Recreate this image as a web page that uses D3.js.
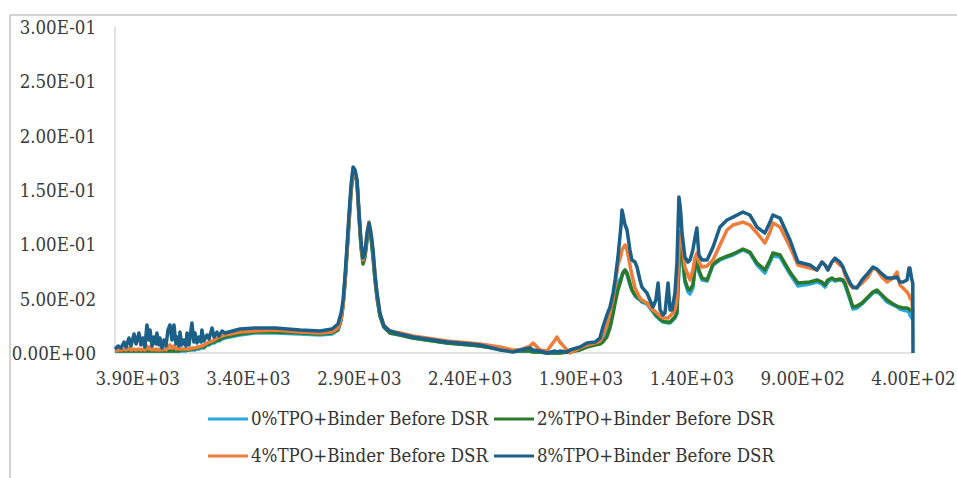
<!DOCTYPE html>
<html>
<head>
<meta charset="utf-8">
<script src="https://cdn.jsdelivr.net/npm/d3@7"></script>
<style>
  body { margin: 0; background: #fff; }
  .tick-label { font-family: "DejaVu Serif Condensed", "DejaVu Serif", serif; font-stretch: condensed; font-size: 18.5px; fill: #3a3a3a; }
  .legend-label { font-family: "DejaVu Serif Condensed", "DejaVu Serif", serif; font-stretch: condensed; font-size: 18.5px; fill: #333; }
</style>
</head>
<body>
<script>
// wavenumber (cm-1)
var wavenumbers = [4000, 3986, 3973, 3959, 3950, 3937, 3928, 3914, 3905, 3892, 3883, 3874, 3865, 3856, 3847, 3842, 3833, 3824, 3815, 3811,
  3802, 3797, 3788, 3779, 3770, 3761, 3752, 3743, 3734, 3725, 3720, 3711, 3707, 3698, 3689, 3680, 3675, 3666, 3653, 3644,
  3639, 3630, 3621, 3612, 3608, 3599, 3585, 3576, 3562, 3553, 3540, 3531, 3517,
  3504, 3436, 3368, 3278, 3165, 3075, 3021, 2994, 2980, 2971, 2962, 2953, 2944, 2935, 2926, 2917, 2908, 2899,
  2890, 2881, 2872, 2863, 2854, 2845, 2836, 2827, 2818, 2805, 2787, 2760, 2714, 2656, 2502, 2399, 2354, 2263, 2205, 2173,
  2128, 2114, 2083, 2051, 2015, 2006, 1993, 1961, 1948, 1902, 1871, 1835, 1812, 1799, 1781, 1767, 1753, 1744, 1731, 1717,
  1713, 1708, 1699, 1690, 1677, 1668, 1654, 1645, 1632, 1623, 1600, 1587, 1573, 1560, 1550, 1541, 1528, 1519, 1505, 1496,
  1487, 1474, 1465, 1456, 1451, 1447, 1442, 1429, 1415, 1406, 1393, 1384, 1375, 1366, 1352, 1329, 1302, 1271, 1239, 1212,
  1167, 1136, 1104, 1068, 1045, 1032, 1000, 955, 919, 865, 833, 811, 797, 784, 766, 752, 730, 716, 707, 684,
  671, 653, 630, 603, 581, 563, 540, 517, 490, 472, 459, 445, 427, 418, 414, 405, 401, 400];

var tpo0 = [.0018, .0018, .0018, .0018, .0018, .0018, .0018, .0018, .0018, .0018, .0018, .0018, .0018, .0018, .0018, .0018, .0018, .0018, .0018, .0018,
  .0018, .0018, .0018, .0018, .0018, .0018, .0018, .0018, .0018, .0018, .0018, .0018, .0018, .0018, .0018, .0018, .0028, .0028, .0028, .0028,
  .0028, .0037, .0037, .0046, .0046, .0046, .0074, .0074, .0092, .0092, .0110, .0110, .0129,
  .0138, .0166, .0184, .0184, .0175, .0166, .0175, .0212, .0304, .0442, .0672, .0948, .1224, .1500, .1684, .1665, .1573, .1270,
  .0994, .0837, .0902, .1058, .1150, .1086, .0902, .0690, .0515, .0350, .0239, .0184, .0166, .0138, .0092, .0074, .0064, .0037, .0018, .0018,
  .0018, .0009, .0009, 0, 0, 0, 0, .0009, .0009, .0037, .0064, .0083, .0101, .0138, .0212, .0322, .0460, .0561, .0653, .0690,
  .0718, .0745, .0764, .0718, .0626, .0580, .0524, .0506, .0488, .0469, .0451, .0414, .0377, .0340, .0322, .0304, .0285, .0285, .0276, .0276,
  .0294, .0322, .0368, .0764, .1040, .1040, .0902, .0653, .0561, .0543, .0598, .0764, .0856, .0745, .0672, .0662, .0810, .0856, .0883, .0902,
  .0948, .0920, .0810, .0736, .0837, .0892, .0883, .0727, .0616, .0635, .0653, .0635, .0607, .0653, .0681, .0662, .0672, .0662, .0626, .0488,
  .0405, .0414, .0451, .0506, .0552, .0570, .0524, .0469, .0442, .0423, .0405, .0396, .0386, .0377, .0350, .0322, .0304, null];

var tpo2 = [.0018, .0018, .0018, .0018, .0018, .0018, .0018, .0018, .0018, .0018, .0018, .0018, .0018, .0018, .0018, .0018, .0018, .0018, .0018, .0018,
  .0018, .0018, .0018, .0018, .0018, .0018, .0018, .0018, .0018, .0018, .0018, .0018, .0028, .0028, .0028, .0028, .0028, .0028, .0037, .0037,
  .0037, .0046, .0046, .0055, .0055, .0055, .0083, .0083, .0101, .0101, .0120, .0120, .0138,
  .0147, .0175, .0193, .0193, .0184, .0175, .0184, .0212, .0304, .0442, .0653, .0929, .1205, .1481, .1665, .1647, .1555, .1242,
  .0966, .0819, .0883, .1040, .1132, .1058, .0874, .0672, .0506, .0340, .0239, .0184, .0166, .0138, .0092, .0074, .0064, .0037, .0018, .0018,
  .0018, .0009, .0009, 0, 0, 0, 0, .0009, .0009, .0028, .0055, .0074, .0083, .0101, .0147, .0230, .0359, .0460, .0580, .0672,
  .0708, .0736, .0764, .0736, .0644, .0580, .0534, .0515, .0497, .0478, .0460, .0423, .0386, .0350, .0331, .0313, .0294, .0285, .0285, .0285,
  .0304, .0331, .0368, .0810, .1067, .1067, .0929, .0672, .0589, .0580, .0626, .0782, .0856, .0764, .0690, .0672, .0819, .0865, .0892, .0911,
  .0957, .0929, .0828, .0764, .0856, .0920, .0902, .0745, .0644, .0653, .0672, .0653, .0626, .0672, .0690, .0672, .0681, .0672, .0644, .0506,
  .0423, .0432, .0460, .0515, .0561, .0580, .0534, .0488, .0451, .0432, .0423, .0414, .0414, .0405, .0396, .0386, .0377, null];

var tpo4 = [.0018, .0028, .0028, .0037, .0028, .0046, .0028, .0037, .0028, .0037, .0028, .0037, .0028, .0064, .0037, .0055, .0028, .0037, .0028, .0037,
  .0028, .0037, .0028, .0037, .0028, .0055, .0074, .0046, .0064, .0037, .0046, .0037, .0037, .0037, .0037, .0037, .0037, .0037, .0046, .0046,
  .0046, .0055, .0055, .0064, .0064, .0074, .0092, .0101, .0110, .0120, .0138, .0147, .0156,
  .0166, .0193, .0202, .0212, .0193, .0184, .0193, .0230, .0322, .0442, .0672, .0948, .1242, .1500, .1684, .1665, .1573, .1279,
  .1003, .0856, .0920, .1095, .1205, .1113, .0929, .0718, .0543, .0368, .0258, .0202, .0184, .0156, .0110, .0092, .0083, .0055, .0028, .0028,
  .0064, .0092, .0028, .0018, .0120, .0147, .0101, .0028, 0, .0046, .0074, .0092, .0110, .0166, .0258, .0377, .0506, .0626, .0810, .0902,
  .0948, .0966, .0994, .0948, .0810, .0718, .0598, .0561, .0506, .0488, .0460, .0423, .0396, .0377, .0359, .0340, .0322, .0322, .0322, .0340,
  .0359, .0396, .0488, .0948, .1113, .1104, .1040, .0791, .0718, .0672, .0764, .0874, .0920, .0837, .0791, .0800, .0856, .0994, .1132, .1178,
  .1205, .1178, .1104, .1012, .1113, .1196, .1159, .0975, .0810, .0782, .0764, .0837, .0810, .0764, .0837, .0856, .0810, .0791, .0718, .0626,
  .0598, .0607, .0644, .0699, .0782, .0764, .0699, .0653, .0690, .0745, .0626, .0598, .0561, .0534, .0506, .0488, .0368, null];

var tpo8 = [.0037, .0064, .0046, .0101, .0055, .0138, .0064, .0175, .0083, .0184, .0074, .0138, .0055, .0258, .0120, .0212, .0064, .0147, .0083, .0184,
  .0074, .0138, .0046, .0120, .0064, .0212, .0258, .0120, .0258, .0083, .0147, .0064, .0193, .0074, .0120, .0064, .0184, .0074, .0276, .0101,
  .0184, .0092, .0147, .0101, .0212, .0110, .0166, .0129, .0230, .0147, .0193, .0156, .0202,
  .0184, .0221, .0230, .0230, .0212, .0202, .0221, .0267, .0368, .0488, .0718, .0994, .1288, .1546, .1711, .1684, .1592, .1288,
  .1021, .0874, .0929, .1104, .1196, .1095, .0948, .0718, .0552, .0368, .0248, .0202, .0175, .0147, .0101, .0083, .0074, .0028, .0009, .0028,
  .0046, .0028, .0018, 0, .0018, .0009, .0018, .0009, .0028, .0055, .0092, .0101, .0138, .0239, .0350, .0423, .0552, .0672, .0883, .1178,
  .1316, .1270, .1178, .1132, .0948, .0856, .0837, .0791, .0672, .0607, .0552, .0488, .0423, .0488, .0644, .0396, .0350, .0368, .0644, .0396,
  .0396, .0552, .0828, .1435, .1362, .1270, .1104, .0883, .0837, .0856, .0948, .1058, .1150, .0902, .0856, .0856, .0975, .1159, .1224, .1251,
  .1297, .1270, .1159, .1104, .1205, .1270, .1242, .1040, .0837, .0810, .0764, .0837, .0810, .0764, .0837, .0874, .0837, .0791, .0745, .0644,
  .0607, .0598, .0672, .0736, .0791, .0773, .0727, .0690, .0690, .0699, .0653, .0653, .0672, .0782, .0782, .0672, .0644, 0];

var seriesNames = ["0%TPO+Binder Before DSR", "2%TPO+Binder Before DSR", "4%TPO+Binder Before DSR", "8%TPO+Binder Before DSR"];
var seriesColors = ["#2aa8e0", "#2b7a2b", "#ee7d3b", "#1c5f87"];
var xTickValues = [3900, 3400, 2900, 2400, 1900, 1400, 900, 400];
var yTickValues = [0, 0.05, 0.10, 0.15, 0.20, 0.25, 0.30];

var seriesValues = [tpo0, tpo2, tpo4, tpo8];

var width = 957, height = 478;
var plotLeft = 115, plotRight = 913, plotTop = 27, plotBottom = 353;

var svg = d3.select("body").append("svg")
    .attr("width", width)
    .attr("height", height);

// outer chart frame (only top and left visible in the crop)
svg.append("line")
    .attr("x1", 10).attr("y1", 15).attr("x2", width).attr("y2", 15)
    .attr("stroke", "#c4c4c4").attr("stroke-width", 1.5);
svg.append("line")
    .attr("x1", 10).attr("y1", 15).attr("x2", 10).attr("y2", height)
    .attr("stroke", "#c4c4c4").attr("stroke-width", 1.5);

var x = d3.scaleLinear()
    .domain([4000, 400])
    .range([plotLeft, plotRight]);
var y = d3.scaleLinear()
    .domain([0, 0.3])
    .range([plotBottom, plotTop]);

// y axis line and zero baseline
svg.append("line")
    .attr("x1", plotLeft).attr("y1", plotTop).attr("x2", plotLeft).attr("y2", plotBottom)
    .attr("stroke", "#d9d9d9").attr("stroke-width", 1.5);
svg.append("line")
    .attr("x1", plotLeft).attr("y1", y(0)).attr("x2", plotRight).attr("y2", y(0))
    .attr("stroke", "#d9d9d9").attr("stroke-width", 1.5);

function expFormat(v) {
    // Excel style: 3.00E-01
    if (v === 0) return "0.00E+00";
    var e = Math.floor(Math.log10(Math.abs(v)));
    var m = v / Math.pow(10, e);
    if (Math.abs(m - 10) < 1e-9) { m = 1; e += 1; }
    var sign = e < 0 ? "-" : "+";
    var ee = Math.abs(e);
    return m.toFixed(2) + "E" + sign + (ee < 10 ? "0" + ee : ee);
}

var yAxis = svg.append("g")
    .attr("transform", "translate(" + 96 + ",0)")
    .call(d3.axisLeft(y).tickValues(yTickValues).tickSize(0).tickPadding(0).tickFormat(expFormat));
yAxis.select(".domain").remove();
yAxis.selectAll("text").attr("class", "tick-label").attr("dy", "0.35em");

var xAxis = svg.append("g")
    .attr("transform", "translate(0," + 372 + ")")
    .call(d3.axisBottom(x).tickValues(xTickValues).tickSize(0).tickPadding(0).tickFormat(expFormat));
xAxis.select(".domain").remove();
xAxis.selectAll("text").attr("class", "tick-label");

var line = d3.line()
    .defined(function (d) { return d[1] !== null; })
    .x(function (d) { return x(d[0]); })
    .y(function (d) { return y(d[1]); });

seriesValues.forEach(function (vals, i) {
    var pts = wavenumbers.map(function (w, j) { return [w, vals[j]]; });
    svg.append("path")
        .datum(pts)
        .attr("fill", "none")
        .attr("stroke", seriesColors[i])
        .attr("stroke-width", 3.5)
        .attr("stroke-linejoin", "round")
        .attr("d", line);
});

// legend, two columns x two rows
var legendCols = [208, 494];
var legendRows = [419, 456];
var legend = svg.append("g");
seriesNames.forEach(function (name, i) {
    var lx = legendCols[i % 2], ly = legendRows[Math.floor(i / 2)];
    legend.append("line")
        .attr("x1", lx).attr("x2", lx + 40)
        .attr("y1", ly).attr("y2", ly)
        .attr("stroke", seriesColors[i]).attr("stroke-width", 3);
    legend.append("text")
        .attr("class", "legend-label")
        .attr("x", lx + 43).attr("y", ly)
        .attr("dy", "0.35em")
        .text(name);
});
</script>
</body>
</html>
